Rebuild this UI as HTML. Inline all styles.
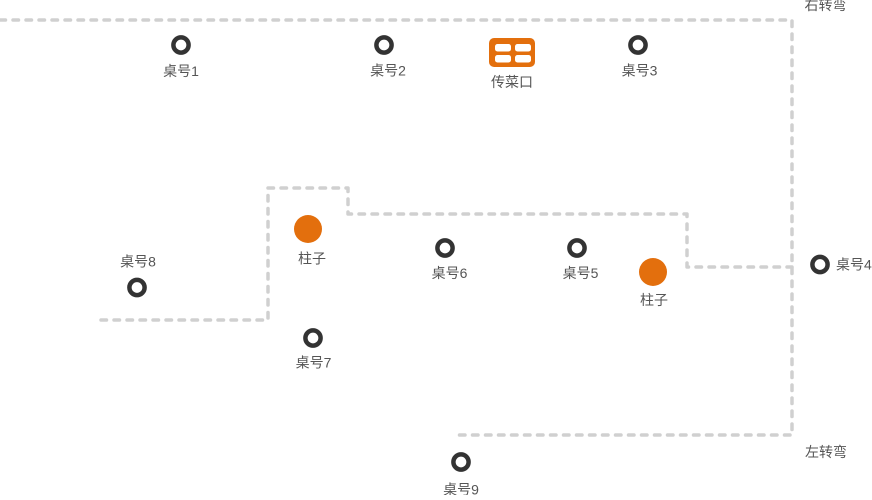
<!DOCTYPE html>
<html>
<head>
<meta charset="utf-8">
<style>
  html, body { margin:0; padding:0; background:#fff; }
  body { width:872px; height:495px; overflow:hidden; }
  svg text { font-family: "Liberation Sans", "Noto Sans CJK SC", sans-serif; font-size:14px; fill:#555; }
</style>
</head>
<body>
<svg width="872" height="495" viewBox="0 0 872 495" xmlns="http://www.w3.org/2000/svg">
  <g fill="none" stroke="#d0d0d0" stroke-width="3.5" stroke-linecap="round" stroke-linejoin="round" stroke-dasharray="5.5 7.5">
    <path d="M0,20 H792 V435 H456"/>
    <path d="M101,320 H268 V188 H348 V214 H687 V267 H792"/>
  </g>

  <g fill="none" stroke="#333" stroke-width="4.5">
    <circle cx="181" cy="45" r="7.6"/>
    <circle cx="384" cy="45" r="7.6"/>
    <circle cx="638" cy="45" r="7.6"/>
    <circle cx="137" cy="287.5" r="7.6"/>
    <circle cx="313" cy="338" r="7.6"/>
    <circle cx="445" cy="248" r="7.6"/>
    <circle cx="577" cy="248" r="7.6"/>
    <circle cx="820" cy="264.5" r="7.6"/>
    <circle cx="461" cy="462" r="7.6"/>
  </g>

  <g fill="#e36f0d">
    <circle cx="308" cy="229" r="14"/>
    <circle cx="653" cy="272" r="14"/>
    <rect x="489" y="38" width="46" height="29" rx="5"/>
  </g>
  <g fill="#fff">
    <rect x="495" y="44" width="16" height="7.5" rx="2.5"/>
    <rect x="515" y="44" width="16" height="7.5" rx="2.5"/>
    <rect x="495" y="55" width="16" height="7.5" rx="2.5"/>
    <rect x="515" y="55" width="16" height="7.5" rx="2.5"/>
  </g>

  <g text-anchor="middle">
    <text x="181" y="76">桌号1</text>
    <text x="388" y="75.5">桌号2</text>
    <text x="512" y="87">传菜口</text>
    <text x="639.5" y="75.5">桌号3</text>
    <text x="825.5" y="10">右转弯</text>
    <text x="312" y="263.5">柱子</text>
    <text x="138" y="266.5">桌号8</text>
    <text x="313.5" y="367.5">桌号7</text>
    <text x="449.5" y="278">桌号6</text>
    <text x="580.5" y="278">桌号5</text>
    <text x="654" y="305">柱子</text>
    <text x="826" y="457">左转弯</text>
    <text x="461" y="494.5">桌号9</text>
  </g>
  <text x="836" y="269.5">桌号4</text>
</svg>
</body>
</html>
